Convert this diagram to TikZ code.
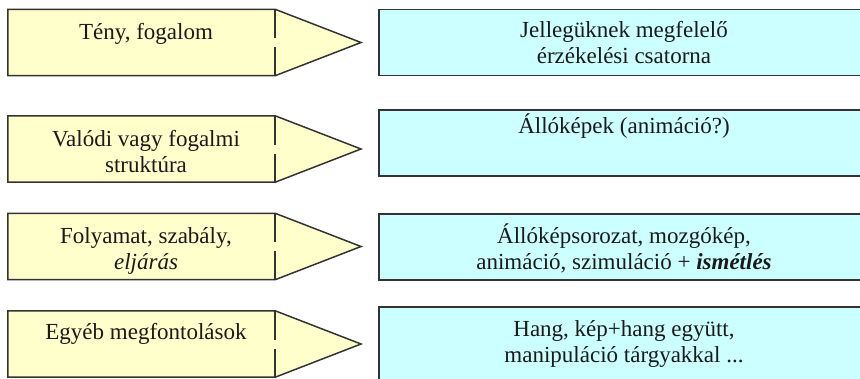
\documentclass[tikz,border=0pt]{standalone}
\usepackage{fontspec}
\setmainfont{Liberation Serif}
\usetikzlibrary{positioning}

\definecolor{paleyellow}{HTML}{FFFFCC}
\definecolor{palecyan}{HTML}{CCFFFF}
\definecolor{edgegray}{HTML}{333333}
\definecolor{inkgray}{HTML}{1A1A1A}

\tikzset{
  kindbox/.style={rectangle, inner sep=0pt, minimum width=267pt, minimum height=66pt},
  mediabox/.style={rectangle, draw=edgegray, line width=1.5pt, fill=palecyan,
    inner sep=0pt, minimum width=490pt, minimum height=66pt},
  outline/.style={draw=edgegray, line width=1.5pt, fill=paleyellow},
  divider/.style={draw=edgegray, line width=1.5pt, dash pattern=on 29pt off 9pt},
  % base of a two-line text is its last line
  kindtext/.style={anchor=base, align=center, inner sep=0pt, text=inkgray, xshift=4.5pt},
  mediatext/.style={anchor=base, align=center, inner sep=0pt, text=inkgray}
}

\begin{document}
\begin{tikzpicture}[
  font=\fontsize{23}{26}\selectfont,
  % one unit is one pixel of the 860 x 378 sheet, y runs downward
  x=1pt,
  y=-1pt
]

% The blue boxes run on past the right edge, so clip to the sheet.
\clip (0,0) rectangle (860,378);

% 1) Tény, fogalom
\node[kindbox] (k1) at (141.5,42.5) {};
\coordinate (t1) at (361,42.5);
\draw[outline] (k1.north east) -- (k1.north west) -- (k1.south west)
  -- (k1.south east) -- (t1) -- cycle;
\draw[divider] (k1.north east) -- (k1.south east);
\node[below=30pt of k1.north, kindtext] (kt1) {Tény, fogalom};
\node[mediabox] (m1) at (624,42.5) {};
\node[below=55pt of m1.north, mediatext] (mt1) {Jellegüknek megfelelő\\érzékelési csatorna};

% 2) Valódi vagy fogalmi struktúra
\node[kindbox] (k2) at (141.5,149) {};
\coordinate (t2) at (361,149);
\draw[outline] (k2.north east) -- (k2.north west) -- (k2.south west)
  -- (k2.south east) -- (t2) -- cycle;
\draw[divider] (k2.north east) -- (k2.south east);
\node[below=57pt of k2.north, kindtext] (kt2) {Valódi vagy fogalmi\\struktúra};
\node[mediabox] (m2) at (624,143) {};
\node[below=24pt of m2.north, mediatext] (mt2) {Állóképek (animáció?)};

% 3) Folyamat, szabály, eljárás
\node[kindbox] (k3) at (141.5,246.5) {};
\coordinate (t3) at (361,246.5);
\draw[outline] (k3.north east) -- (k3.north west) -- (k3.south west)
  -- (k3.south east) -- (t3) -- cycle;
\draw[divider] (k3.north east) -- (k3.south east);
\node[below=56pt of k3.north, kindtext] (kt3) {Folyamat, szabály,\\\textit{eljárás}};
\node[mediabox] (m3) at (624,247) {};
\node[below=56pt of m3.north, mediatext] (mt3)
  {Állóképsorozat, mozgókép,\\animáció, szimuláció + \textbf{\textit{ismétlés}}};

% 4) Egyéb megfontolások (bottom row is cut by the sheet edge)
\node[kindbox] (k4) at (141.5,344) {};
\coordinate (t4) at (361,344);
\draw[outline] (k4.north east) -- (k4.north west) -- (k4.south west)
  -- (k4.south east) -- (t4) -- cycle;
\draw[divider] (k4.north east) -- (k4.south east);
\node[below=29pt of k4.north, kindtext] (kt4) {Egyéb megfontolások};
\node[mediabox, minimum height=90pt] (m4) at (624,352) {};
\node[below=56pt of m4.north, mediatext] (mt4)
  {Hang, kép+hang együtt,\\manipuláció tárgyakkal ...};

\end{tikzpicture}
\end{document}
